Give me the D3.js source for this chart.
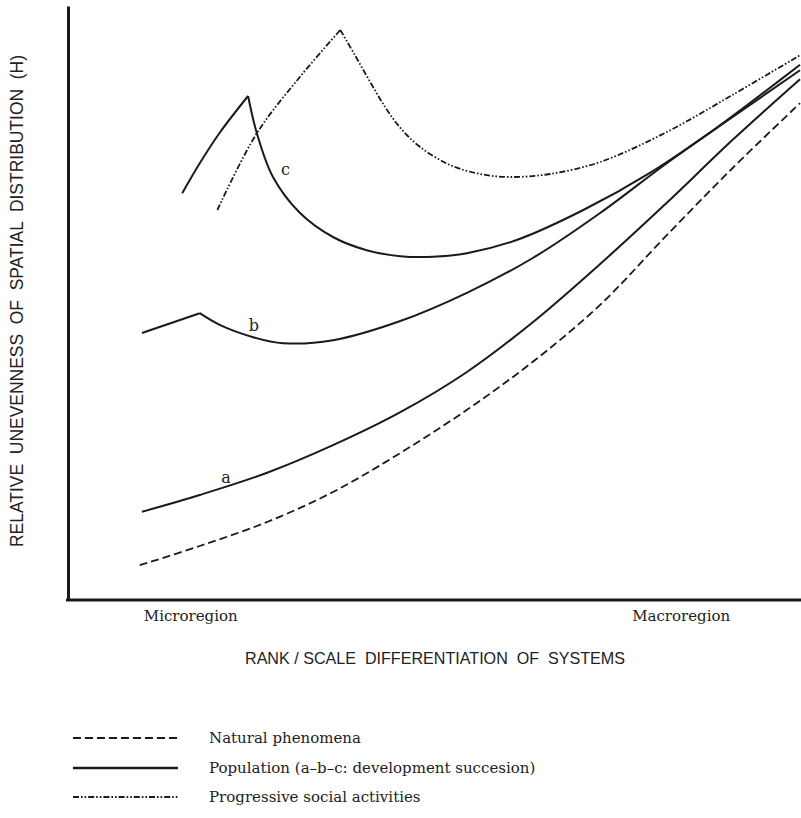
<!DOCTYPE html>
<html><head><meta charset="utf-8">
<script src="https://cdn.jsdelivr.net/npm/d3@7"></script>
<style>body{margin:0;background:#fff}svg{display:block}</style>
</head><body>
<svg id="chart" width="801" height="818"></svg>
<script>
// ---- data (abstract units: x 0..100 across, y 0..99 up) ----
const natural = [[9.8,5.8],[18.0,9.0],[27.2,13.0],[36.2,18.0],[45.4,24.5],[54.5,31.7],[63.5,39.7],[72.7,49.2],[81.8,60.8],[90.8,72.0],[100,82.8]];
const popA = [[10.1,14.7],[18.0,17.5],[27.2,21.2],[36.2,25.8],[45.4,31.3],[54.5,38.0],[63.5,46.3],[72.7,56.0],[81.8,66.2],[90.8,76.7],[100,86.8]];
const popB1 = [[10.1,44.5],[18.0,47.8]];
const popB2 = [[18.0,47.8],[20.8,45.8],[25.3,43.8],[29.4,42.8],[36.2,43.3],[45.4,46.5],[54.5,51.2],[63.5,57.0],[72.7,64.5],[81.8,72.8],[90.8,80.5],[100,88.3]];
const popC1 = [[15.6,67.8],[18.0,72.8],[20.8,78.0],[24.6,84.0]];
const popC2 = [[24.6,84.0],[25.8,77.8],[28.0,70.5],[31.7,64.5],[36.2,60.5],[40.8,58.3],[45.4,57.3],[49.9,57.2],[54.5,57.8],[61.3,60.0],[70.4,65.0],[79.5,71.2],[88.7,78.8],[95.5,85.0],[100,89.2]];
const social1 = [[20.4,65.0],[25.8,77.8],[31.7,87.2],[37.2,95.0]];
const social2 = [[37.2,95.0],[39.2,90.8],[41.3,86.3],[43.3,82.2],[45.4,78.7],[48.1,75.5],[52.2,72.5],[56.3,71.0],[60.4,70.5],[65.8,71.0],[72.7,73.0],[81.8,78.0],[90.8,84.2],[100,90.8]];
const curveLabels = [{t:"c",x:29.7,y:70.8},{t:"b",x:25.4,y:44.8},{t:"a",x:21.6,y:19.5}];
const xTicks = [16.7, 83.7];
const xTickLabels = ["Microregion","Macroregion"];
const yTitle = "RELATIVE  UNEVENNESS  OF  SPATIAL  DISTRIBUTION  (H)";
const xTitle = "RANK / SCALE  DIFFERENTIATION  OF  SYSTEMS";
const legendItems = ["Natural phenomena","Population (a–b–c: development succesion)","Progressive social activities"];

// ---- drawing ----
const svg = d3.select("#chart");
const x = d3.scaleLinear().domain([0,100]).range([68,800]);
const y = d3.scaleLinear().domain([0,99]).range([600,6]);
const line = d3.line().x(d=>x(d[0])).y(d=>y(d[1])).curve(d3.curveCatmullRom.alpha(0.5));
const serif = "'DejaVu Serif','Liberation Serif',serif";
const sans = "'Liberation Sans Narrow','Liberation Sans',Arial,sans-serif";
const styles = {
  natural:{dash:"8,4", w:1.8},
  pop:{dash:null, w:2},
  social:{dash:"6,2,1.6,2,1.6,2", w:1.8}
};
function draw(data, st){
  svg.append("path").datum(data).attr("d",line).attr("fill","none")
    .attr("stroke","#1a1a1a").attr("stroke-width",st.w)
    .attr("stroke-dasharray",st.dash);
}
draw(natural, styles.natural);
[popA,popB1,popB2,popC1,popC2].forEach(d=>draw(d, styles.pop));
[social1,social2].forEach(d=>draw(d, styles.social));

// axes
const xAxis = d3.axisBottom(x).tickValues(xTicks).tickFormat((d,i)=>xTickLabels[i]).tickSize(0).tickSizeOuter(0).tickPadding(10);
const gx = svg.append("g").attr("transform","translate(0,600)").call(xAxis);
gx.select(".domain").attr("stroke","#1a1a1a").attr("stroke-width",3).attr("d","M66,0H801");
gx.selectAll("text").attr("font-family",serif).attr("font-size",15).attr("fill","#222");
const yAxis = d3.axisLeft(y).tickValues([]).tickSize(0).tickSizeOuter(0);
const gy = svg.append("g").attr("transform","translate(68,0)").call(yAxis);
gy.select(".domain").attr("stroke","#1a1a1a").attr("stroke-width",3);

// titles
svg.append("text").attr("transform","translate(23,301) rotate(-90)").attr("text-anchor","middle")
  .attr("font-family",sans).attr("font-size",18).attr("fill","#222").style("white-space","pre")
  .attr("textLength",492).attr("lengthAdjust","spacingAndGlyphs").text(yTitle);
svg.append("text").attr("x",435).attr("y",664).attr("text-anchor","middle")
  .attr("font-family",sans).attr("font-size",17).attr("fill","#222").style("white-space","pre")
  .attr("textLength",380).attr("lengthAdjust","spacingAndGlyphs").text(xTitle);

// curve labels
curveLabels.forEach(l=>{
  svg.append("text").attr("x",x(l.x)).attr("y",y(l.y)).attr("text-anchor","middle")
    .attr("font-family",serif).attr("font-size",16).attr("fill","#222").text(l.t);
});

// legend
const legY = [738,768,797];
const legSt = [styles.natural, styles.pop, styles.social];
legendItems.forEach((t,i)=>{
  svg.append("line").attr("x1",73).attr("x2",178).attr("y1",legY[i]).attr("y2",legY[i])
    .attr("stroke","#1a1a1a").attr("stroke-width",i===1?2.6:2.2).attr("stroke-dasharray",legSt[i].dash);
  svg.append("text").attr("x",209).attr("y",legY[i]+5).attr("font-family",serif)
    .attr("font-size",15).attr("fill","#222").text(t);
});
</script>
</body></html>
